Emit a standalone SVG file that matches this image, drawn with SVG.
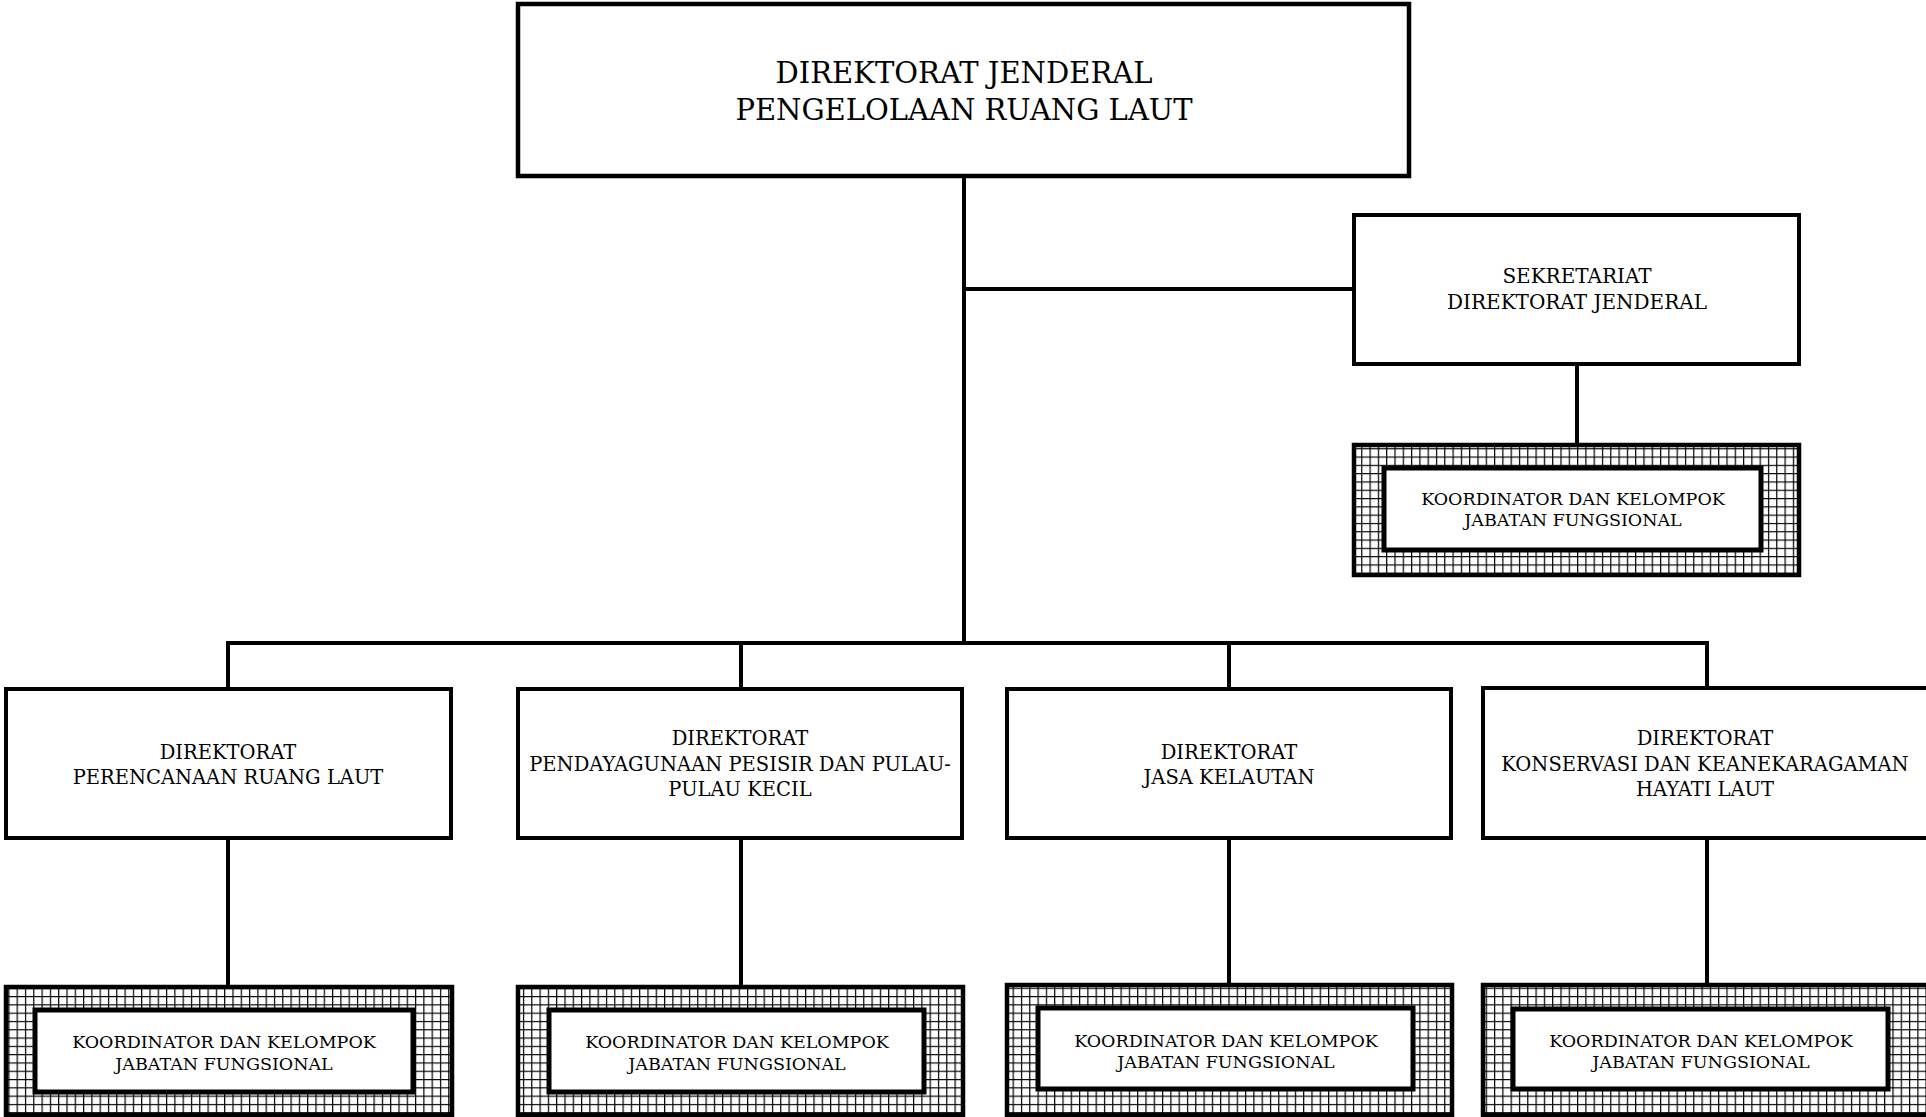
<svg xmlns="http://www.w3.org/2000/svg" width="1926" height="1117" viewBox="0 0 1926 1117">
<defs>
<pattern id="grid" patternUnits="userSpaceOnUse" width="8.3" height="8.3">
<rect width="8.3" height="8.3" fill="#ffffff"/>
<path d="M0 0H8.3M0 0V8.3" stroke="#000" stroke-width="2.4" fill="none"/>
</pattern>
</defs>
<style>
.box{fill:#fff;stroke:#000;stroke-width:4}
.hatch{fill:url(#grid);stroke:#000;stroke-width:4.5}
.inner{fill:#fff;stroke:#000;stroke-width:5}
.conn line{stroke:#000;stroke-width:4;stroke-linecap:square}
text{font-family:"DejaVu Serif","Liberation Serif",serif;fill:#000;text-anchor:middle}
.t0{font-size:29px}
.t1{font-size:20px}
.t2{font-size:19.5px}
.t3{font-size:17.5px}
</style>
<rect width="1926" height="1117" fill="#fff"/>
<g id="connectors" class="conn">
<line x1="964" y1="176" x2="964" y2="643"/>
<line x1="964" y1="289" x2="1354" y2="289"/>
<line x1="1577" y1="364" x2="1577" y2="445"/>
<line x1="228" y1="643" x2="1707" y2="643"/>
<line x1="228" y1="643" x2="228" y2="689"/>
<line x1="741" y1="643" x2="741" y2="689"/>
<line x1="1229" y1="643" x2="1229" y2="689"/>
<line x1="1707" y1="643" x2="1707" y2="688"/>
<line x1="228" y1="838" x2="228" y2="987"/>
<line x1="741" y1="838" x2="741" y2="987"/>
<line x1="1229" y1="838" x2="1229" y2="985"/>
<line x1="1707" y1="838" x2="1707" y2="985"/>
</g>
<g id="dirjen">
<rect class="box" x="518" y="4" width="891" height="172" style="stroke-width:4.5"/>
<text class="t0" x="964" y="83">DIREKTORAT JENDERAL</text>
<text class="t0" x="964" y="120">PENGELOLAAN RUANG LAUT</text>
</g>
<g id="sekretariat">
<rect class="box" x="1354" y="215" width="445" height="149"/>
<text class="t1" x="1577" y="283">SEKRETARIAT</text>
<text class="t1" x="1577" y="309">DIREKTORAT JENDERAL</text>
</g>
<g id="jf-sekretariat">
<rect class="hatch" x="1354" y="445" width="445" height="130"/>
<rect class="inner" x="1384" y="468" width="377" height="82"/>
<text class="t3" x="1573" y="505">KOORDINATOR DAN KELOMPOK</text>
<text class="t3" x="1573" y="526">JABATAN FUNGSIONAL</text>
</g>
<g id="dir-perencanaan">
<rect class="box" x="6" y="689" width="445" height="149"/>
<text class="t2" x="228" y="759">DIREKTORAT</text>
<text class="t2" x="228" y="784">PERENCANAAN RUANG LAUT</text>
</g>
<g id="dir-pendayagunaan">
<rect class="box" x="518" y="689" width="444" height="149"/>
<text class="t2" x="740" y="745">DIREKTORAT</text>
<text class="t2" x="740" y="771">PENDAYAGUNAAN PESISIR DAN PULAU-</text>
<text class="t2" x="740" y="796">PULAU KECIL</text>
</g>
<g id="dir-jasa">
<rect class="box" x="1007" y="689" width="444" height="149"/>
<text class="t2" x="1229" y="759">DIREKTORAT</text>
<text class="t2" x="1229" y="784">JASA KELAUTAN</text>
</g>
<g id="dir-konservasi">
<rect class="box" x="1483" y="688" width="445" height="150"/>
<text class="t2" x="1705" y="745">DIREKTORAT</text>
<text class="t2" x="1705" y="771">KONSERVASI DAN KEANEKARAGAMAN</text>
<text class="t2" x="1705" y="796">HAYATI LAUT</text>
</g>
<g id="jf-perencanaan">
<rect class="hatch" x="6" y="987" width="446" height="128"/>
<rect class="inner" x="35" y="1010" width="378" height="82"/>
<text class="t3" x="224" y="1048">KOORDINATOR DAN KELOMPOK</text>
<text class="t3" x="224" y="1070">JABATAN FUNGSIONAL</text>
</g>
<g id="jf-pendayagunaan">
<rect class="hatch" x="518" y="987" width="445" height="128"/>
<rect class="inner" x="549" y="1010" width="375" height="82"/>
<text class="t3" x="737" y="1048">KOORDINATOR DAN KELOMPOK</text>
<text class="t3" x="737" y="1070">JABATAN FUNGSIONAL</text>
</g>
<g id="jf-jasa">
<rect class="hatch" x="1007" y="985" width="445" height="130"/>
<rect class="inner" x="1038" y="1008" width="375" height="81"/>
<text class="t3" x="1226" y="1047">KOORDINATOR DAN KELOMPOK</text>
<text class="t3" x="1226" y="1068">JABATAN FUNGSIONAL</text>
</g>
<g id="jf-konservasi">
<rect class="hatch" x="1483" y="985" width="445" height="130"/>
<rect class="inner" x="1513" y="1009" width="375" height="80"/>
<text class="t3" x="1701" y="1047">KOORDINATOR DAN KELOMPOK</text>
<text class="t3" x="1701" y="1068">JABATAN FUNGSIONAL</text>
</g>
</svg>
